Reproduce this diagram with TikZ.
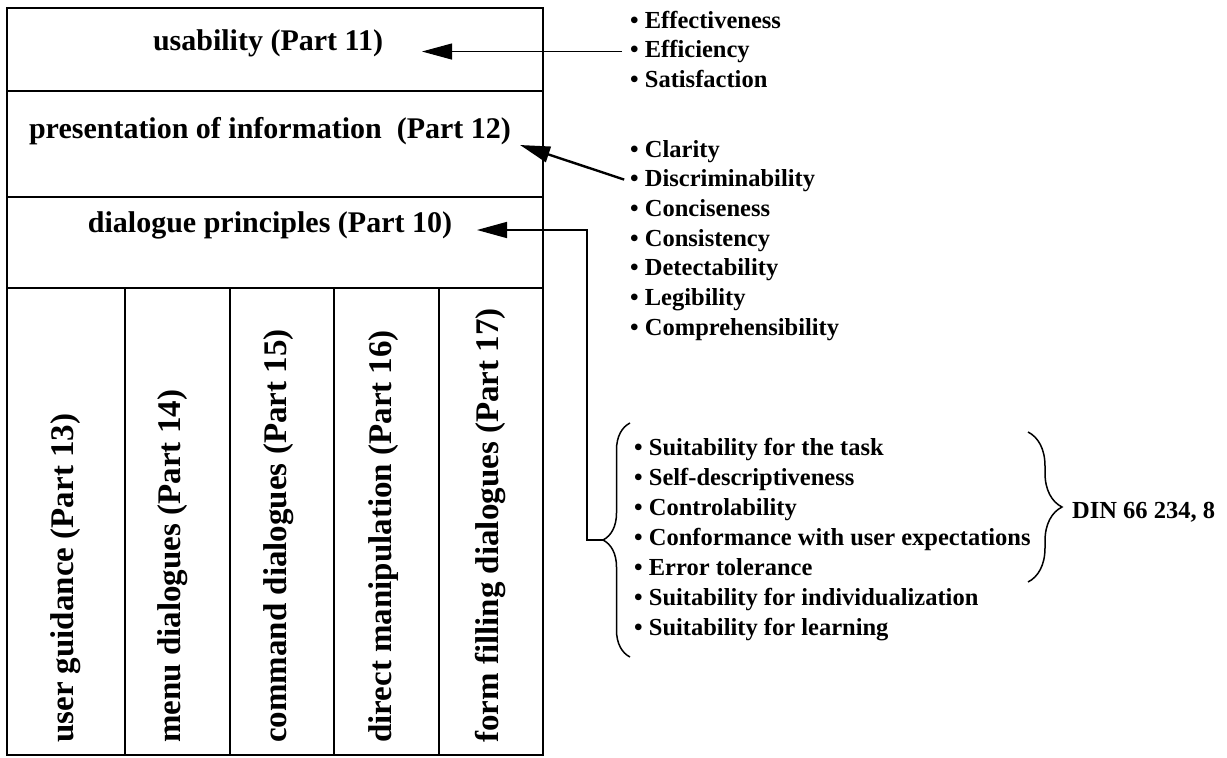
\documentclass[tikz,border=0pt]{standalone}
\usepackage{fontspec}
\setmainfont{Liberation Serif}
\usetikzlibrary{arrows.meta,decorations.pathreplacing}
\newcommand\boxfont{\bfseries\fontsize{30}{34}\selectfont}
\newcommand\colfont{\bfseries\fontsize{33}{36}\selectfont}
\newcommand\listfont{\bfseries\fontsize{24.5}{28}\selectfont}
\tikzset{
  frame/.style={line width=1.8pt},
  part/.style={font=\boxfont,inner sep=0pt,anchor=base},
  col/.style={font=\colfont,inner sep=0pt,anchor=base west,rotate=90},
  item/.style={font=\listfont,inner sep=2pt,anchor=base west},
  arr/.style={line width=1.6pt,-{Triangle[length=30pt,width=16pt]}},
  curly/.style={line width=1.5pt,decorate,decoration={brace,amplitude=#1}}
}
\begin{document}
\begin{tikzpicture}[x=1pt,y=-1pt]
  \useasboundingbox (0,0) rectangle (1227,758);
  % the parts of the standard
  \draw[frame] (7,8) rectangle (543,755);
  \draw[frame] (7,91) -- (543,91) (7,197) -- (543,197) (7,288) -- (543,288);
  \foreach \x in {125,230,334,439}
    \draw[frame] (\x,288) -- (\x,755);

  \node[part] (usab) at (268,50)  {usability (Part 11)};
  \node[part] (pres) at (270,138) {presentation of information\ \ (Part 12)};
  \node[part] (dlg)  at (270,232) {dialogue principles (Part 10)};

  \foreach \x/\txt [count=\i from 13] in {73/user guidance,180/menu dialogues,286/command dialogues,391/direct manipulation,498/form filling dialogues}
    \node[col] (p\i) at (\x,743) {\txt{} (Part \i)};

  % criteria
  \foreach \txt [count=\i] in {Effectiveness,Efficiency,Satisfaction}
    \node[item] (us\i) at (628,{28+29.5*(\i-1)}) {\textbullet\ \txt};
  \foreach \txt [count=\i] in {Clarity,Discriminability,Conciseness,Consistency,Detectability,Legibility,Comprehensibility}
    \node[item] (pi\i) at (628,{157+29.7*(\i-1)}) {\textbullet\ \txt};
  \foreach \txt [count=\i] in {Suitability for the task,Self-descriptiveness,Controlability,Conformance with user expectations,Error tolerance,Suitability for individualization,Suitability for learning}
    \node[item] (dp\i) at (632,{455+30*(\i-1)}) {\textbullet\ \txt};
  \node[item] (din) at (1070,518) {DIN 66 234, 8};

  % arrows
  \coordinate (usabtip) at (422,49);
  \coordinate (prestip) at (520,145);
  \coordinate (dlgtip) at (477,230);
  \coordinate (lbrace) at (603,540);
  \draw[arr,line width=1pt,shorten <=6pt] (us2.west) -- (us2.west -| usabtip);
  \draw[arr,line width=2.4pt,shorten <=4pt] (pi2.west) -- (prestip);
  \draw[arr] (lbrace) -- ++(-16,0) |- (dlgtip);

  % braces
  \draw[curly=27pt] (630,657) -- (630,423);
  \draw[curly=34pt] (1028,432) -- (1028,582);
\end{tikzpicture}
\end{document}
